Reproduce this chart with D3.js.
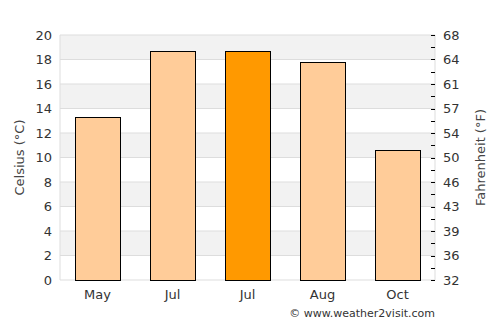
<!DOCTYPE html>
<html>
<head>
<meta charset="utf-8">
<script src="https://cdn.jsdelivr.net/npm/d3@7"></script>
<style>
  body { margin: 0; background: #fff; }
  svg { font-family: "DejaVu Sans", sans-serif; }
</style>
</head>
<body>
<div id="chart"></div>
<script>
// data
const months = ["May", "Jul", "Jul", "Aug", "Oct"];
const temps = [13.3, 18.7, 18.7, 17.8, 10.6];
const highlight = [false, false, true, false, false];
const celsiusTicks = [0, 2, 4, 6, 8, 10, 12, 14, 16, 18, 20];

const W = 500, H = 325;
const margin = { top: 35, right: 65, bottom: 45, left: 60 };
const width = W - margin.left - margin.right,
    height = H - margin.top - margin.bottom;

const svg = d3.select("#chart").append("svg")
    .attr("width", W)
    .attr("height", H);

const chart = svg.append("g")
    .attr("transform", `translate(${margin.left},${margin.top})`);

const x = d3.scaleBand()
    .domain(months.map((m, i) => i))
    .range([0, width])
    .paddingInner(0.4)
    .paddingOuter(0.2);

const y = d3.scaleLinear().domain([0, 20]).range([height, 0]);

// alternating stripes
chart.selectAll("rect.stripe")
    .data(celsiusTicks.slice(0, -1).filter((d, i) => i % 2 === 1))
    .enter().append("rect")
    .attr("class", "stripe")
    .attr("x", 0)
    .attr("width", width)
    .attr("y", d => y(d + 2))
    .attr("height", d => y(d) - y(d + 2))
    .attr("fill", "#f2f2f2");

// gridlines
chart.selectAll("line.grid")
    .data(celsiusTicks)
    .enter().append("line")
    .attr("class", "grid")
    .attr("x1", 0).attr("x2", width)
    .attr("y1", d => y(d)).attr("y2", d => y(d))
    .attr("stroke", "#dddddd");

// frame sides
chart.append("line").attr("x1", 0).attr("x2", 0).attr("y1", 0).attr("y2", height).attr("stroke", "#dddddd");
chart.append("line").attr("x1", width).attr("x2", width).attr("y1", 0).attr("y2", height).attr("stroke", "#dddddd");

// bars
chart.selectAll("rect.bar")
    .data(temps)
    .enter().append("rect")
    .attr("class", "bar")
    .attr("x", (d, i) => x(i) + 0.5)
    .attr("y", d => Math.round(y(d)) + 0.5)
    .attr("width", x.bandwidth())
    .attr("height", d => height - Math.round(y(d)))
    .attr("fill", (d, i) => highlight[i] ? "#ff9900" : "#ffcc99")
    .attr("stroke", "#000")
    .attr("stroke-width", 1);

// left axis
const leftAxis = chart.append("g")
    .call(d3.axisLeft(y).tickValues(celsiusTicks).tickSize(0).tickPadding(8));
leftAxis.select(".domain").remove();
leftAxis.selectAll("text")
    .attr("font-size", "13px")
    .attr("fill", "#333")
    .attr("font-family", "DejaVu Sans, sans-serif");

// right axis (Fahrenheit)
const toF = c => c * 9 / 5 + 32;
const rightAxis = chart.append("g")
    .attr("transform", `translate(${width},0)`)
    .call(d3.axisRight(y).tickValues(celsiusTicks).tickSize(0).tickPadding(8)
        .tickFormat(c => Math.round(toF(c))));
rightAxis.select(".domain").remove();
rightAxis.selectAll("text")
    .attr("font-size", "13px")
    .attr("fill", "#333")
    .attr("font-family", "DejaVu Sans, sans-serif");

chart.selectAll("line.fticks")
    .data(d3.range(0, 21))
    .enter().append("line")
    .attr("class", "fticks")
    .attr("x1", width - 4).attr("x2", width)
    .attr("y1", d => Math.round(y(d)) + 0.5).attr("y2", d => Math.round(y(d)) + 0.5)
    .attr("stroke", "#000");

// x labels
chart.selectAll("text.month")
    .data(months)
    .enter().append("text")
    .attr("class", "month")
    .attr("x", (d, i) => x(i) + x.bandwidth() / 2)
    .attr("y", height + 19)
    .attr("text-anchor", "middle")
    .attr("font-size", "13px")
    .attr("fill", "#333")
    .text(d => d);

// axis titles
svg.append("text")
    .attr("transform", `translate(24,${margin.top + height / 2}) rotate(-90)`)
    .attr("text-anchor", "middle")
    .attr("font-size", "13px")
    .attr("fill", "#444")
    .text("Celsius (°C)");

svg.append("text")
    .attr("transform", `translate(485,${margin.top + height / 2}) rotate(-90)`)
    .attr("text-anchor", "middle")
    .attr("font-size", "13px")
    .attr("fill", "#444")
    .text("Fahrenheit (°F)");

// credit
svg.append("text")
    .attr("x", 435)
    .attr("y", 317)
    .attr("text-anchor", "end")
    .attr("font-size", "11px")
    .attr("fill", "#333")
    .text("© www.weather2visit.com");
</script>
</body>
</html>
